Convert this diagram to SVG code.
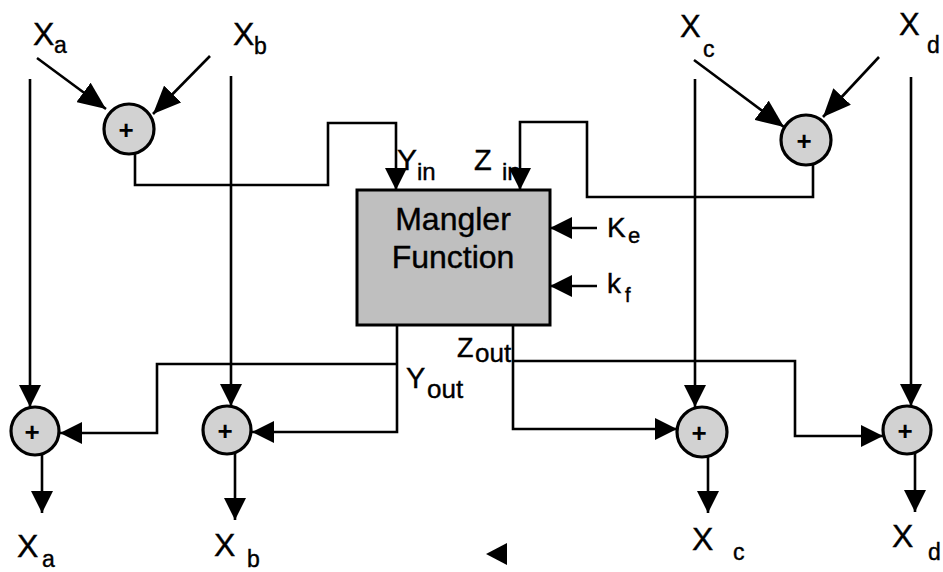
<svg xmlns="http://www.w3.org/2000/svg" width="943" height="572" viewBox="0 0 943 572">
<style>
.ln{fill:none;stroke:#000;stroke-width:2.6;stroke-linejoin:miter}
.ar{marker-end:url(#ah)}
.ad{marker-end:url(#ah2)}
.sum{fill:#d2d2d2;stroke:#000;stroke-width:3.2}
.t{font-family:"Liberation Sans",Arial,sans-serif;fill:#000;stroke:#000;stroke-width:0.4}
.plus{font-family:"Liberation Sans",Arial,sans-serif;font-weight:bold;font-size:26px;text-anchor:middle;fill:#000}
</style>
<defs>
<marker id="ah" viewBox="0 0 22 22" refX="22" refY="11" markerWidth="22" markerHeight="22" orient="auto" markerUnits="userSpaceOnUse">
<path d="M0,0 L22,11 L0,22 Z" fill="#000"/>
</marker>
<marker id="ah2" viewBox="0 0 28 24" refX="28" refY="12" markerWidth="28" markerHeight="24" orient="auto" markerUnits="userSpaceOnUse">
<path d="M0,0 L28,12 L0,24 Z" fill="#000"/>
</marker>
</defs>
<rect width="943" height="572" fill="#fff"/>
<g id="connectors">
<path class="ln ad" d="M37,58 L106,109"/>
<path class="ln ad" d="M210,56 L153,114"/>
<path class="ln ar" d="M135,154 V185 H328 V123 H396 V190"/>
<path class="ln ad" d="M694,60 L784,127"/>
<path class="ln ad" d="M879,57 L823,117"/>
<path class="ln ar" d="M813,165 V197 H587 V122 H520 V190"/>
<path class="ln ar" d="M597,228 H550"/>
<path class="ln ar" d="M597,286 H550"/>
<path class="ln ar" d="M397,325 V432 H252"/>
<path class="ln ar" d="M397,364 H157 V433 H60"/>
<path class="ln ar" d="M513,325 V429 H677"/>
<path class="ln ar" d="M513,361 H795 V436 H883"/>
<path class="ln ar" d="M30,79 V407"/>
<path class="ln ar" d="M231,76 V406"/>
<path class="ln ar" d="M695,79 V407"/>
<path class="ln ar" d="M911,77 V406"/>
<path class="ln ar" d="M42,455 V513"/>
<path class="ln ar" d="M235,454 V520"/>
<path class="ln ar" d="M708,457 V513"/>
<path class="ln ar" d="M915,454 V512"/>
<polygon points="486,554 507,543 507,565" fill="#000"/>
</g>
<g id="sum_top_left"><circle class="sum" cx="129" cy="129" r="25"/><text class="plus" x="126" y="139">+</text></g>
<g id="sum_top_right"><circle class="sum" cx="806" cy="140" r="25"/><text class="plus" x="804" y="150">+</text></g>
<g id="sum_a"><circle class="sum" cx="35" cy="431" r="24"/><text class="plus" x="32" y="441">+</text></g>
<g id="sum_b"><circle class="sum" cx="227" cy="430" r="24"/><text class="plus" x="225" y="440">+</text></g>
<g id="sum_c"><circle class="sum" cx="702" cy="432" r="25"/><text class="plus" x="699" y="442">+</text></g>
<g id="sum_d"><circle class="sum" cx="907" cy="430" r="24"/><text class="plus" x="905" y="440">+</text></g>
<g id="mangler">
<rect x="357" y="190" width="193" height="135" fill="#bfbfbf" stroke="#000" stroke-width="3"/>
<text class="t" x="453" y="230" font-size="32" text-anchor="middle" stroke-width="0.7">Mangler</text>
<text class="t" x="453" y="268" font-size="32" text-anchor="middle" stroke-width="0.7">Function</text>
</g>
<g id="labels">
<text class="t" x="33" y="45" font-size="32">X</text><text class="t" x="54" y="53" font-size="23">a</text>
<text class="t" x="233" y="45" font-size="32">X</text><text class="t" x="254" y="54" font-size="23">b</text>
<text class="t" x="680" y="37" font-size="31">X</text><text class="t" x="703" y="57" font-size="23">c</text>
<text class="t" x="899" y="35" font-size="31">X</text><text class="t" x="927" y="53" font-size="23">d</text>
<text class="t" x="17" y="557" font-size="32">X</text><text class="t" x="42" y="567" font-size="23">a</text>
<text class="t" x="214" y="556" font-size="32">X</text><text class="t" x="247" y="567" font-size="23">b</text>
<text class="t" x="692" y="550" font-size="32">X</text><text class="t" x="733" y="560" font-size="23">c</text>
<text class="t" x="892" y="547" font-size="32">X</text><text class="t" x="928" y="560" font-size="23">d</text>
<text class="t" x="397" y="170" font-size="30">Y</text><text class="t" x="417" y="180" font-size="24">in</text>
<text class="t" x="474" y="170" font-size="29">Z</text><text class="t" x="502" y="180" font-size="24">in</text>
<text class="t" x="607" y="237" font-size="28">K</text><text class="t" x="628" y="243" font-size="22">e</text>
<text class="t" x="607" y="293" font-size="28">k</text><text class="t" x="625" y="302" font-size="20">f</text>
<text class="t" x="457" y="357" font-size="27">Z</text><text class="t" x="475" y="362" font-size="26">out</text>
<text class="t" x="406" y="388" font-size="29">Y</text><text class="t" x="427" y="398" font-size="26">out</text>
</g>
</svg>
